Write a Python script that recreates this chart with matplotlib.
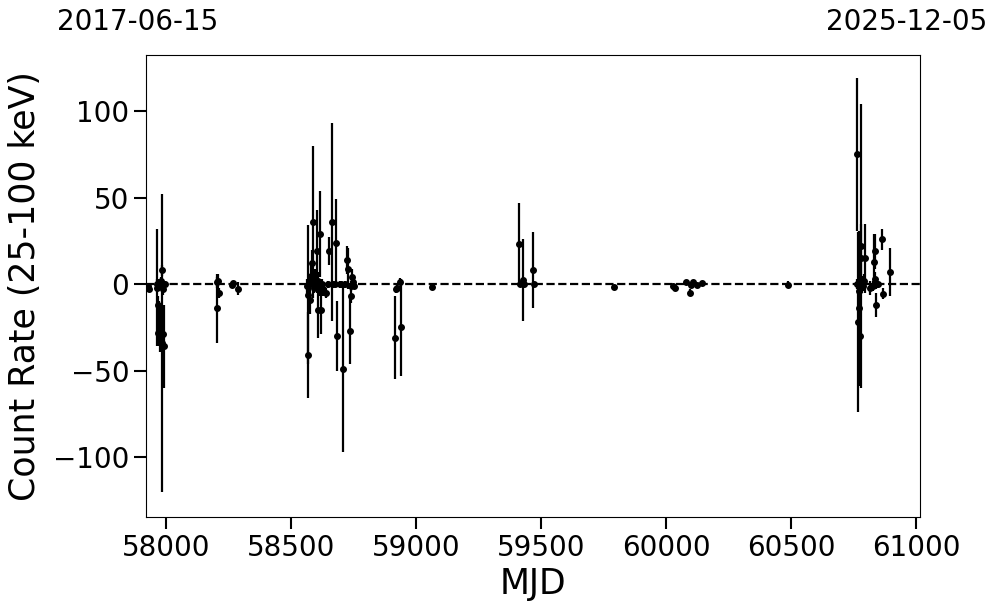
import matplotlib
matplotlib.use("Agg")
import matplotlib.pyplot as plt

# MJD, count rate (25-100 keV) and 1-sigma errors
mjd = [
    57927, 57930, 57963, 57964, 57966, 57968, 57970, 57972, 57974, 57976,
    57978, 57979, 57981, 57983, 57985, 57988, 57991, 57993,
    58202, 58204, 58208, 58212, 58262, 58268, 58286,
    58562, 58565, 58568, 58570, 58573, 58576, 58580, 58584, 58586, 58590,
    58595, 58600, 58602, 58605, 58608, 58612, 58616, 58618, 58622, 58628,
    58640, 58646, 58652, 58664, 58668, 58676, 58680, 58682, 58695, 58700,
    58706, 58715, 58722, 58726, 58735, 58737, 58740, 58744, 58748, 58752,
    58915, 58920, 58922, 58936, 58938, 59062,
    59412, 59414, 59428, 59430, 59468, 59470,
    59791,
    60028, 60033, 60079, 60095, 60097, 60108, 60122, 60142, 60486,
    60762, 60764, 60767, 60770, 60772, 60776, 60778, 60780, 60783, 60785,
    60790, 60795, 60815, 60827, 60829, 60833, 60835, 60838, 60840, 60845,
    60863, 60867, 60895,
]
rate = [
    -1, -2.5, -2, 0, -28, -12, 1, -20, -30, -1,
    -25, 2, 8, -34, -3, -29, -36, 0,
    -14, 1, 2, -5, -0.5, 0.5, -2.5,
    -1, -6, -41, 2, -9, 0, 5, 12, 36, -2,
    4, -1, 19, -15, 2, -3, 29, -15, 0, -3,
    -5, 0, 19, 36, 0, 0, 24, -30, 0, 0,
    -49, 0, 14, 9, -27, -7, -1, 4, 1, -1,
    -31, -3, -2, 1.5, -25, -1.5,
    23, 0, 2.5, 0, 8, 0,
    -1.5,
    -1, -2, 1.4, -5, -0.5, 1.4, -0.5, 0.4, -0.2,
    75, 0, -22, -4, -14, -30, 22, 15, 0, -1,
    2, 15, -2, -1, 13, 19, 3, -12, 0, 0,
    26, -5.4, 7,
]
rate_err = [
    1.5, 1.5, 34, 3, 8, 5, 2, 10, 9, 2,
    12, 2, 3, 86, 3, 15, 24, 2,
    20, 3, 4, 3, 1, 1.5, 4,
    4, 40, 25, 3, 8, 4, 6, 8, 44, 3,
    5, 3, 24, 16, 5, 4, 25, 14, 3, 4,
    3, 2, 8, 57, 2, 1.5, 25, 20, 2, 1.5,
    48, 2, 8, 12, 19, 4, 3, 5, 2, 2,
    24, 2, 2, 2, 28, 1.5,
    24, 1.5, 23.5, 2, 22, 1.5,
    1,
    1, 1, 1, 2, 1, 1, 1, 1, 2,
    44, 3, 52, 30, 45, 28, 82, 20, 5, 3,
    4, 20, 4, 3, 16, 10, 4, 7, 3, 2,
    6, 3, 14,
]

fig = plt.figure(figsize=(9.97, 6.13), dpi=100)
ax = fig.add_axes([146 / 997, 96 / 613, 774 / 997, 462 / 613])

ax.errorbar(mjd, rate, yerr=rate_err, fmt="o", color="k", ms=4, elinewidth=1.6, capsize=0)
ax.axhline(0, color="k", ls="--", lw=1.6)

ax.set_xlim(57919, 61014)
ax.set_ylim(-134.5, 132.4)
ax.set_yticks([-100, -50, 0, 50, 100])
ax.tick_params(labelsize=20, length=8.5, width=1.5)
ax.set_xlabel("MJD", fontsize=25, labelpad=4)
ax.set_ylabel("Count Rate (25-100 keV)", fontsize=25, labelpad=8)

fig.text(57 / 997, 1 - 22 / 613, "2017-06-15", fontsize=20, ha="left", va="center")
fig.text(987 / 997, 1 - 22 / 613, "2025-12-05", fontsize=20, ha="right", va="center")

fig.savefig("out.png", dpi=100)
